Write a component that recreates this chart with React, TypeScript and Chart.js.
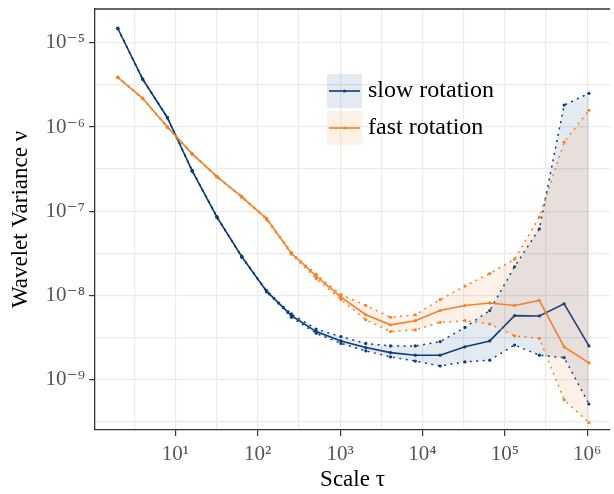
import { useEffect, useRef } from 'react';
import { Chart, registerables } from 'chart.js';
Chart.register(...registerables);

const scales = [2, 4, 8, 16, 32, 64, 128, 256, 512, 1024, 2048, 4096, 8192, 16384, 32768, 65536, 131072, 262144, 524288, 1048576];

const slowMean = [1.479e-5, 3.715e-6, 1.288e-6, 3.02e-7, 8.51e-8, 2.88e-8, 1.122e-8, 5.75e-9, 3.72e-9, 2.88e-9, 2.40e-9, 2.09e-9, 1.95e-9, 1.95e-9, 2.45e-9, 2.88e-9, 5.75e-9, 5.70e-9, 7.94e-9, 2.51e-9];
const slowUpper = [1.49e-5, 3.74e-6, 1.30e-6, 3.05e-7, 8.6e-8, 2.92e-8, 1.14e-8, 6.03e-9, 3.98e-9, 3.24e-9, 2.69e-9, 2.51e-9, 2.51e-9, 2.82e-9, 4.17e-9, 6.61e-9, 2.19e-8, 6.17e-8, 1.82e-6, 2.51e-6];
const slowLower = [1.47e-5, 3.69e-6, 1.28e-6, 2.99e-7, 8.4e-8, 2.84e-8, 1.10e-8, 5.50e-9, 3.55e-9, 2.69e-9, 2.19e-9, 1.86e-9, 1.66e-9, 1.45e-9, 1.62e-9, 1.70e-9, 2.57e-9, 1.95e-9, 1.82e-9, 5.13e-10];

const fastMean = [3.89e-6, 2.19e-6, 1.0e-6, 4.79e-7, 2.57e-7, 1.48e-7, 8.13e-8, 3.16e-8, 1.70e-8, 9.55e-9, 5.89e-9, 4.47e-9, 5.01e-9, 6.61e-9, 7.59e-9, 8.13e-9, 7.59e-9, 8.71e-9, 2.45e-9, 1.58e-9];
const fastUpper = [3.92e-6, 2.21e-6, 1.01e-6, 4.84e-7, 2.60e-7, 1.50e-7, 8.3e-8, 3.25e-8, 1.78e-8, 1.02e-8, 7.59e-9, 5.50e-9, 5.89e-9, 8.91e-9, 1.29e-8, 1.82e-8, 2.69e-8, 8.51e-8, 6.61e-7, 1.58e-6];
const fastLower = [3.86e-6, 2.17e-6, 0.99e-6, 4.74e-7, 2.54e-7, 1.46e-7, 7.95e-8, 3.08e-8, 1.58e-8, 8.91e-9, 5.13e-9, 3.72e-9, 3.89e-9, 4.79e-9, 5.01e-9, 4.57e-9, 3.31e-9, 3.09e-9, 5.75e-10, 3.09e-10];

const xTicks = [3.1623, 10, 31.623, 100, 316.23, 1e3, 3162.3, 1e4, 31623, 1e5, 316228, 1e6];
const yTicks = [3.1623e-10, 1e-9, 3.1623e-9, 1e-8, 3.1623e-8, 1e-7, 3.1623e-7, 1e-6, 3.1623e-6, 1e-5];

const seriesNames = ['slow rotation', 'fast rotation'];

const BLUE = '#0b3c7d';
const ORANGE = '#f4812a';
const BLUE_FILL = 'rgba(11,60,125,0.11)';
const ORANGE_FILL = 'rgba(244,129,42,0.11)';
const FONT = "'Liberation Serif', 'DejaVu Serif', serif";

const SUP: Record<string, string> = { '0': '⁰', '1': '¹', '2': '²', '3': '³', '4': '⁴', '5': '⁵', '6': '⁶', '7': '⁷', '8': '⁸', '9': '⁹', '-': '⁻' };

function isMajor(v: number | undefined) {
  if (v === undefined || v <= 0) return false;
  const l = Math.log10(v);
  return Math.abs(l - Math.round(l)) < 1e-3;
}
function label(v: number) {
  if (!isMajor(v)) return '';
  const e = String(Math.round(Math.log10(v)));
  return '10' + e.split('').map((c) => SUP[c]).join('');
}

const pts = (arr: number[]) => arr.map((y, i) => ({ x: scales[i], y }));

const framePlugin = {
  id: 'frameLegend',
  afterDraw(chart: any) {
    const { ctx, chartArea } = chart;
    ctx.save();
    ctx.strokeStyle = '#333';
    ctx.lineWidth = 1.3;
    ctx.beginPath();
    ctx.moveTo(chartArea.left, chartArea.top);
    ctx.lineTo(chartArea.right, chartArea.top);
    ctx.stroke();

    const items = [
      { name: seriesNames[0], color: BLUE, fill: BLUE_FILL, y: 74 },
      { name: seriesNames[1], color: ORANGE, fill: ORANGE_FILL, y: 111 },
    ];
    for (const it of items) {
      ctx.fillStyle = it.fill;
      ctx.fillRect(327, it.y, 35, 34);
      const cy = it.y + 17;
      ctx.strokeStyle = it.color;
      ctx.lineWidth = 1.6;
      ctx.beginPath();
      ctx.moveTo(329, cy);
      ctx.lineTo(360, cy);
      ctx.stroke();
      ctx.fillStyle = it.color;
      ctx.beginPath();
      ctx.arc(344.5, cy, 1.6, 0, Math.PI * 2);
      ctx.fill();
      ctx.fillStyle = '#000';
      ctx.font = `24px ${FONT}`;
      ctx.textBaseline = 'middle';
      ctx.textAlign = 'left';
      ctx.fillText(it.name, 368, cy);
    }
    ctx.restore();
  },
};

export default function App() {
  const ref = useRef<HTMLCanvasElement>(null);
  useEffect(() => {
    if (!ref.current) return;
    const dotted = [2, 4.5];
    const line = (data: number[], color: string, dash: number[] | undefined, fill: any, bg: string, order: number) => ({
      data: pts(data),
      borderColor: color,
      backgroundColor: bg,
      borderWidth: dash ? 1.5 : 1.6,
      borderDash: dash || [],
      pointRadius: 1.6,
      pointBackgroundColor: color,
      pointBorderWidth: 0,
      fill,
      order,
      tension: 0,
    });
    const chart = new Chart(ref.current, {
      type: 'line',
      data: {
        datasets: [
          line(slowUpper, BLUE, dotted, false, BLUE_FILL, 1),
          line(slowLower, BLUE, dotted, '-1', BLUE_FILL, 1),
          line(slowMean, BLUE, undefined, false, BLUE_FILL, 1),
          line(fastUpper, ORANGE, dotted, false, ORANGE_FILL, 0),
          line(fastLower, ORANGE, dotted, '-1', ORANGE_FILL, 0),
          line(fastMean, ORANGE, undefined, false, ORANGE_FILL, 0),
        ] as any,
      },
      options: {
        animation: false,
        responsive: false,
        devicePixelRatio: 1,
        layout: { padding: { top: 9, right: 0, left: 0, bottom: 0 } },
        plugins: { legend: { display: false }, tooltip: { enabled: false } },
        scales: {
          x: {
            type: 'logarithmic',
            min: 1.057,
            max: 1.89e6,
            afterBuildTicks: (s: any) => {
              s.ticks = xTicks.map((v) => ({ value: v }));
            },
            afterFit: (s: any) => {
              s.height = 64;
              s.paddingLeft = 0;
              s.paddingRight = 0;
            },
            ticks: {
              autoSkip: false,
              maxRotation: 0,
              padding: 6,
              color: '#555',
              font: { family: FONT, size: 21 },
              callback: (v: any) => label(Number(v)),
            },
            grid: {
              color: '#ebebeb',
              lineWidth: 1.2,
              tickLength: 6,
              tickWidth: 1.2,
              tickColor: (c: any) => (isMajor(c.tick?.value) ? '#333' : 'rgba(0,0,0,0)'),
            },
            border: { color: '#333', width: 1.3 },
            title: { display: true, text: 'Scale τ', color: '#000', font: { family: FONT, size: 23 }, padding: { top: 0, bottom: 0 } },
          },
          y: {
            type: 'logarithmic',
            min: 2.52e-10,
            max: 2.52e-5,
            afterBuildTicks: (s: any) => {
              s.ticks = yTicks.map((v) => ({ value: v }));
            },
            afterFit: (s: any) => {
              s.width = 95;
              s.paddingTop = 0;
              s.paddingBottom = 0;
            },
            ticks: {
              autoSkip: false,
              padding: 4,
              color: '#555',
              font: { family: FONT, size: 21 },
              callback: (v: any) => label(Number(v)),
            },
            grid: {
              color: '#ebebeb',
              lineWidth: 1.2,
              tickLength: 6,
              tickWidth: 1.2,
              tickColor: (c: any) => (isMajor(c.tick?.value) ? '#333' : 'rgba(0,0,0,0)'),
            },
            border: { color: '#333', width: 1.3 },
            title: { display: true, text: 'Wavelet Variance ν', color: '#000', font: { family: FONT, size: 23 }, padding: { top: 7, bottom: 0 } },
          },
        },
      } as any,
      plugins: [framePlugin],
    });
    return () => chart.destroy();
  }, []);
  return (
    <div style={{ position: 'absolute', left: 0, top: 0, width: 614, height: 494 }}>
      <canvas ref={ref} width={614} height={494} />
    </div>
  );
}
